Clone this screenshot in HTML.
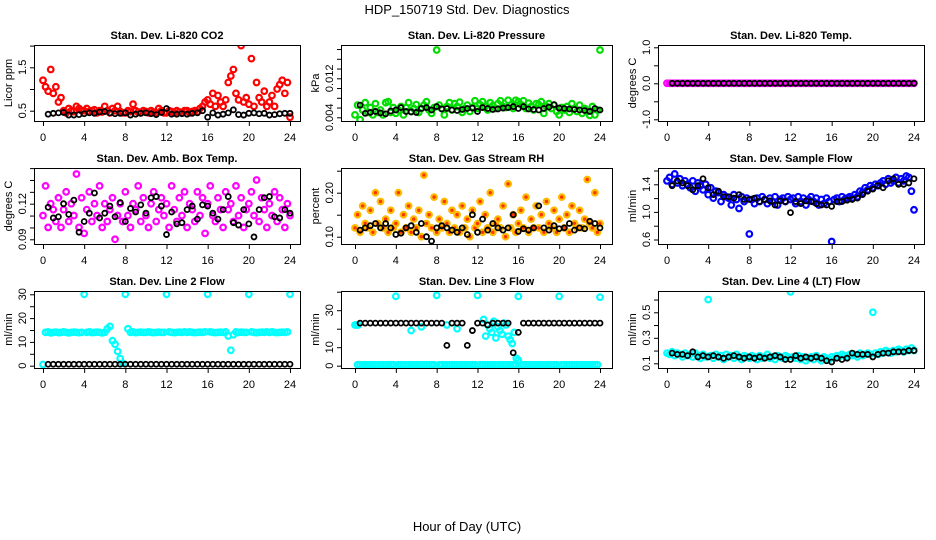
<!DOCTYPE html>
<html><head><meta charset="utf-8"><style>
html,body{margin:0;padding:0;background:#fff;}
svg{display:block;font-family:"Liberation Sans",Arial,sans-serif;}
</style></head><body>
<svg id="chart" width="936" height="540" viewBox="0 0 936 540" xmlns="http://www.w3.org/2000/svg">
<text x="467" y="14" text-anchor="middle" font-size="13">HDP_150719  Std. Dev. Diagnostics</text>
<text x="467" y="531" text-anchor="middle" font-size="13">Hour of Day (UTC)</text>
</svg>
<script>
// ---- data ----
const co2Color = [1.2,1.05,0.95,1.45,0.9,1.05,0.7,0.8, 0.5,0.45,0.55,0.5,0.48,0.6,0.55,0.5, 0.5,0.55,0.48,0.5,0.52,0.45,0.5,0.47, 0.6,0.5,0.45,0.55,0.5,0.6,0.48,0.45, 0.45,0.5,0.48,0.65,0.5,0.47,0.45,0.5, 0.48,0.45,0.5,0.47,0.45,0.55,0.5,0.45, 0.45,0.5,0.48,0.45,0.5,0.47,0.45,0.5, 0.5,0.45,0.48,0.5,0.47,0.55,0.6,0.7, 0.75,0.65,0.9,0.6,0.85,0.7,0.6,0.75, 1.15,1.3,1.45,0.9,0.75,2.0,0.7,0.8, 0.65,1.7,0.6,1.15,0.8,0.7,0.95,0.6, 0.7,0.85,0.6,1.0,1.1,1.2,0.9,1.15,0.35];
const co2Black = [0.42,0.44,0.45,0.46,0.4,0.4,0.41,0.43,0.45,0.44,0.47,0.48,0.45,0.43,0.44,0.45,0.4,0.42,0.44,0.45,0.43,0.41,0.46,0.55,0.42,0.42,0.43,0.42,0.44,0.45,0.5,0.35,0.45,0.4,0.42,0.45,0.52,0.41,0.4,0.44,0.45,0.43,0.44,0.4,0.41,0.43,0.44,0.44];
const presColor = [.0045,.0065,.0035,.0055,.007,.005,.006,.0045, .0068,.005,.0055,.0045,.007,.0072,.005,.006, .0048,.0055,.0062,.0045,.006,.007,.0052,.0058, .0066,.005,.0058,.0065,.0072,.0055,.0048,.006, .0178,.0065,.0058,.0045,.0062,.007,.0055,.0068, .0062,.0071,.005,.0058,.0065,.0052,.006,.0074, .0058,.0066,.0072,.0062,.0055,.007,.0064,.0058, .0068,.0074,.0062,.006,.0075,.0065,.0058,.0075, .0072,.0066,.0074,.0058,.0069,.0062,.0055,.0068, .0066,.0072,.0048,.0062,.0068,.0058,.0065,.0052, .0045,.006,.0055,.0062,.005,.0068,.0058,.0052, .0065,.0048,.0058,.0052,.0044,.0062,.0045,.0055,.0178];
const presBlack = [.0065,.0048,.005,.0052,.0049,.0047,.0053,.0055,.006,.0052,.0051,.005,.0058,.006,.0055,.0062,.0057,.0058,.0055,.0054,.0056,.0058,.0059,.0052,.006,.0058,.0056,.0057,.0059,.006,.0062,.0058,.0062,.0057,.0056,.0055,.0058,.0061,.0066,.0059,.0058,.0057,.0056,.0055,.0054,.0052,.0058,.0055];
const tempColor = new Array(97).fill(0);
const tempBlack = new Array(48).fill(0);
const boxColor = [.11,.135,.10,.12,.115,.105,.125,.10, .115,.13,.105,.12,.11,.145,.10,.125, .095,.115,.13,.105,.12,.11,.135,.10, .12,.105,.115,.125,.09,.11,.12,.105, .13,.11,.10,.12,.115,.135,.105,.125, .11,.10,.12,.13,.105,.115,.125,.11, .12,.1,.135,.115,.105,.125,.11,.13, .1,.12,.115,.105,.13,.11,.125,.095, .12,.135,.11,.105,.125,.115,.1,.13, .115,.12,.105,.135,.11,.125,.1,.115, .12,.13,.11,.14,.105,.125,.115,.1, .12,.11,.13,.105,.125,.115,.1,.12,.11];
const boxBlack = [.117,.108,.109,.12,.111,.123,.096,.105,.112,.129,.108,.112,.118,.109,.121,.105,.116,.113,.119,.112,.125,.126,.118,.094,.113,.103,.104,.115,.118,.107,.119,.118,.112,.107,.115,.126,.104,.102,.115,.103,.092,.115,.125,.126,.109,.108,.115,.112];
const rhColor = [.12,.15,.11,.17,.13,.12,.16,.11, .2,.13,.18,.12,.14,.11,.16,.12, .13,.2,.11,.15,.12,.17,.11,.14, .12,.16,.1,.24,.13,.15,.12,.19, .11,.14,.12,.18,.13,.11,.16,.12, .15,.11,.17,.12,.14,.1,.16,.12, .13,.18,.11,.15,.12,.2,.11,.13, .14,.12,.17,.1,.22,.12,.15,.11, .13,.16,.12,.19,.11,.14,.12,.17, .12,.15,.11,.18,.13,.12,.16,.11, .14,.19,.12,.15,.11,.17,.13,.12, .16,.12,.14,.23,.13,.12,.2,.11,.13];
const rhBlack = [.115,.12,.125,.13,.12,.13,.12,.105,.108,.12,.125,.11,.13,.1,.09,.12,.125,.12,.115,.11,.12,.105,.15,.11,.14,.115,.13,.12,.115,.12,.15,.112,.118,.115,.12,.17,.12,.115,.125,.118,.12,.13,.115,.12,.118,.135,.13,.12];
const flowColor = [1.45,1.5,1.4,1.55,1.42,1.48,1.38,1.45, 1.4,1.35,1.45,1.3,1.42,1.38,1.32,1.4, 1.25,1.35,1.2,1.3,1.28,1.15,1.25,1.22, 1.2,1.1,1.25,1.18,1.05,1.22,1.15,1.2, 0.68,1.18,1.12,1.2,1.15,1.22,1.18,1.12, 1.2,1.15,1.22,1.1,1.18,1.2,1.15,1.22, 1.18,1.2,1.12,1.22,1.15,1.2,1.1,1.18, 1.22,1.15,1.2,1.1,1.18,1.12,1.2,1.15, 0.57,1.18,1.2,1.15,1.22,1.18,1.2,1.22, 1.2,1.25,1.22,1.3,1.28,1.35,1.32,1.38, 1.35,1.4,1.38,1.42,1.45,1.4,1.48,1.42, 1.45,1.5,1.42,1.48,1.45,1.52,1.5,1.3,1.03];
const flowBlack = [1.38,1.45,1.42,1.38,1.32,1.38,1.48,1.35,1.25,1.3,1.22,1.22,1.2,1.25,1.18,1.18,1.2,1.15,1.18,1.16,1.1,1.16,1.15,0.99,1.15,1.12,1.16,1.15,1.12,1.1,1.1,1.08,1.15,1.15,1.17,1.18,1.2,1.25,1.3,1.33,1.38,1.35,1.45,1.48,1.4,1.4,1.42,1.48];
const line2Color = [0.5,14,14.2,13.8,14,14.1,13.9,14, 14.2,14,13.8,14,14.1,14,13.9,14, 30,14,14.2,13.9,14,14.1,14,13.8, 14,15.5,16.5,10.5,9,6,3,1, 30,15.5,14,14.2,13.9,14,14.1,14, 14,14.2,14,13.9,14,14.1,14,14, 30,14.2,14,13.9,14,14.1,14,14.2, 14,14.2,14,13.9,14,14.1,14,14.2, 30,14.2,14,13.9,14,14.1,14,14.2, 12.5,6.5,13,14.2,14,14.1,14,14, 30,14.2,14,13.9,14,14.1,14,14.2, 14,14.2,14,13.9,14,14.1,14,14.2,30];
const line2Black = new Array(48).fill(0.6);
const line3Color = [22,0.5,0.5,0.5,0.5,0.5,0.5,0.5, 0.5,0.5,0.5,0.5,0.5,0.5,0.5,0.5, 37.5,0.5,0.5,0.5,0.5,0.5,0.5,0.5, 0.5,0.5,0.5,0.5,0.5,0.5,0.5,0.5, 38,0.5,0.5,0.5,0.5,0.5,0.5,0.5, 0.5,0.5,0.5,0.5,0.5,0.5,0.5,0.5, 38,0.5,0.5,0.5,0.5,0.5,0.5,0.5, 0.5,0.5,0.5,0.5,0.5,0.5,0.5,0.5, 37.5,0.5,0.5,0.5,0.5,0.5,0.5,0.5, 0.5,0.5,0.5,0.5,0.5,0.5,0.5,0.5, 37.5,0.5,0.5,0.5,0.5,0.5,0.5,0.5, 0.5,0.5,0.5,0.5,0.5,0.5,0.5,0.5,37];
const line3ExtraHours = [0.1,0.3,5.5,6.5,9,10,12.6,12.8,13,13.2,13.4,13.6,13.8,14,14.2,14.4,14.6,14.8,15,15.2,15.4,15.6,15.8,16];
const line3Extra = [22,22,19,21,22,20,25,16,22,20,18,24,15,21,19,17,23,22,16,14,12,18,4,3];
const line3Black = [23,23,23,23,23,23,23,23,23,23,23,23,23,23,23,23,23,11,23,23,23,11,19,23,23,22,23,23,23,23,7,18,23,23,23,23,23,23,23,23,23,23,23,23,23,23,23,23];
const line4Color = [0.18,0.17,0.19,0.16,0.18,0.17,0.15,0.18, 0.16,0.17,0.15,0.18,0.16,0.14,0.17,0.15, 0.6,0.16,0.14,0.17,0.15,0.16,0.13,0.17, 0.15,0.16,0.14,0.17,0.15,0.13,0.16,0.15, 0.14,0.16,0.15,0.13,0.16,0.14,0.15,0.17, 0.14,0.15,0.13,0.16,0.15,0.14,0.16,0.15, 0.66,0.15,0.14,0.16,0.13,0.15,0.12,0.14, 0.15,0.13,0.16,0.14,0.12,0.15,0.14,0.13, 0.15,0.14,0.16,0.15,0.17,0.16,0.15,0.17, 0.16,0.17,0.15,0.18,0.16,0.17,0.18,0.17, 0.5,0.18,0.17,0.19,0.18,0.2,0.19,0.18, 0.2,0.19,0.21,0.2,0.19,0.21,0.2,0.22,0.2];
const line4Black = [.18,.17,.17,.16,.19,.15,.16,.15,.16,.15,.14,.15,.16,.15,.14,.15,.14,.15,.14,.15,.16,.15,.13,.13,.16,.14,.15,.14,.15,.14,.12,.11,.14,.13,.14,.18,.17,.17,.17,.15,.17,.18,.18,.19,.19,.19,.2,.2];
const xTicks = [0,4,8,12,16,20,24];

const NS = "http://www.w3.org/2000/svg";
const svg = document.getElementById('chart');
function mk(tag, attrs, parent){const e=document.createElementNS(NS,tag);for(const k in attrs)e.setAttribute(k,attrs[k]);(parent||svg).appendChild(e);return e;}

const cols=[{l:34,r:300,x0:43,x24:290},{l:341,r:612,x0:355,x24:600},{l:658,r:924,x0:667,x24:914}];
const rows=[{t:45,b:121},{t:168,b:244},{t:291,b:368}];

const panels=[
 {name:'co2',title:'Stan. Dev. Li-820 CO2',ylab:'Licor ppm',c:0,r:0,ya:0.5,pa:110.7,yb:1.5,pb:67.3,ticks:[0.5,1,1.5,2],labels:[[0.5,'0.5'],[1.5,'1.5']],color:'#ff0000',col:co2Color,blk:co2Black},
 {name:'pressure',title:'Stan. Dev. Li-820 Pressure',ylab:'kPa',c:1,r:0,ya:0.004,pa:117.3,yb:0.012,pb:78.3,ticks:[0.004,0.006,0.008,0.010,0.012,0.014,0.016,0.018],labels:[[0.004,'0.004'],[0.012,'0.012']],color:'#00dd00',col:presColor,blk:presBlack},
 {name:'li820-temp',title:'Stan. Dev. Li-820 Temp.',ylab:'degrees C',c:2,r:0,ya:-1,pa:119.3,yb:1,pb:47.3,ticks:[-1,-0.5,0,0.5,1],labels:[[-1,'-1.0'],[0,'0.0'],[1,'1.0']],color:'#ff00ff',col:tempColor,blk:tempBlack},
 {name:'box-temp',title:'Stan. Dev. Amb. Box Temp.',ylab:'degrees C',c:0,r:1,ya:0.09,pa:239.3,yb:0.12,pb:203.7,ticks:[0.09,0.10,0.11,0.12,0.13,0.14,0.15],labels:[[0.09,'0.09'],[0.12,'0.12']],color:'#ff00ff',col:boxColor,blk:boxBlack},
 {name:'gas-rh',title:'Stan. Dev. Gas Stream RH',ylab:'percent',c:1,r:1,ya:0.10,pa:236.7,yb:0.20,pb:192.7,ticks:[0.10,0.15,0.20,0.25],labels:[[0.10,'0.10'],[0.20,'0.20']],color:'#ffbb00',fill:'#ff3300',col:rhColor,blk:rhBlack},
 {name:'sample-flow',title:'Stan. Dev. Sample Flow',ylab:'ml/min',c:2,r:1,ya:0.6,pa:239.5,yb:1.4,pb:184.3,ticks:[0.6,0.8,1.0,1.2,1.4,1.6],labels:[[0.6,'0.6'],[1.0,'1.0'],[1.4,'1.4']],color:'#0000ff',col:flowColor,blk:flowBlack},
 {name:'line2-flow',title:'Stan. Dev. Line 2 Flow',ylab:'ml/min',c:0,r:2,ya:0,pa:365.7,yb:30,pb:294.3,ticks:[0,5,10,15,20,25,30],labels:[[0,'0'],[10,'10'],[20,'20'],[30,'30']],color:'#00ffff',col:line2Color,blk:line2Black},
 {name:'line3-flow',title:'Stan. Dev. Line 3 Flow',ylab:'ml/min',c:1,r:2,ya:0,pa:365.7,yb:30,pb:310.2,ticks:[0,10,20,30,40],labels:[[0,'0'],[10,'10'],[30,'30']],color:'#00ffff',col:line3Color,blk:line3Black,extraH:line3ExtraHours,extraV:line3Extra},
 {name:'line4-flow',title:'Stan. Dev. Line 4 (LT) Flow',ylab:'ml/min',c:2,r:2,ya:0.1,pa:363.3,yb:0.5,pb:312.3,ticks:[0.1,0.2,0.3,0.4,0.5,0.6],labels:[[0.1,'0.1'],[0.3,'0.3'],[0.5,'0.5']],color:'#00ffff',col:line4Color,blk:line4Black}
];

panels.forEach(p=>{
 const C=cols[p.c],R=rows[p.r];
 const g=mk('g',{});
 
 
 const xs=h=>C.x0+(C.x24-C.x0)*h/24;
 const ys=v=>p.pa+(p.pb-p.pa)*(v-p.ya)/(p.yb-p.ya);
 const clip=mk('clipPath',{id:'clip-'+p.name},g);
 mk('rect',{x:C.l,y:R.t,width:C.r-C.l,height:R.b-R.t},clip);
 const t=mk('text',{x:(C.l+C.r)/2,y:R.t-6,'text-anchor':'middle','font-size':'11','font-weight':'bold'},g);
 t.textContent=p.title;
 
 
 const pts=mk('g',{'clip-path':'url(#clip-'+p.name+')'},g);
 
 
 const fill=p.fill||'none';
 if(p.name==='li820-temp'){
  const ln=mk('line',{x1:xs(0),x2:xs(24),y1:ys(0),y2:ys(0),stroke:'#ff00ff','stroke-width':4},pts);
  
  
 }
 p.col.forEach((v,i)=>{
  const c=mk('circle',{cx:xs(i*0.25),cy:ys(v),r:2.8,fill:fill,stroke:p.color,'stroke-width':2.2},pts);
  
  
 });
 if(p.extraH){p.extraH.forEach((h,i)=>{
  const c=mk('circle',{cx:xs(h),cy:ys(p.extraV[i]),r:2.8,fill:'none',stroke:p.color,'stroke-width':2.2},pts);
  
  
 });}
 p.blk.forEach((v,i)=>{
  const c=mk('circle',{cx:xs(i*0.5+0.5),cy:ys(v),r:2.5,fill:'none',stroke:'#000','stroke-width':1.8},pts);
  
  
 });
 const b=mk('rect',{x:C.l+0.5,y:R.t+0.5,width:C.r-C.l,height:R.b-R.t,fill:'none',stroke:'#000','stroke-width':1},g);
 
 
 const xa=mk('g',{},g);
 
 
 mk('line',{x1:xs(0),x2:xs(24),y1:R.b+0.5,y2:R.b+0.5,stroke:'#000'},xa);
 xTicks.forEach(h=>{
  mk('line',{x1:xs(h)+0.5,x2:xs(h)+0.5,y1:R.b,y2:R.b+5,stroke:'#000'},xa);
  const tl=mk('text',{x:xs(h),y:R.b+20,'text-anchor':'middle','font-size':'11'},xa);
  tl.textContent=h;
  
  
 });
 const ya=mk('g',{},g);
 
 
 mk('line',{x1:C.l+0.5,x2:C.l+0.5,y1:ys(p.ticks[0]),y2:ys(p.ticks[p.ticks.length-1]),stroke:'#000'},ya);
 p.ticks.forEach(v=>{mk('line',{x1:C.l-4,x2:C.l,y1:ys(v)+0.5,y2:ys(v)+0.5,stroke:'#000'},ya);});
 p.labels.forEach(([v,s])=>{
  const yy=ys(v),xx=C.l-8;
  const tl=mk('text',{x:xx,y:yy,'text-anchor':'middle','font-size':'11',transform:'rotate(-90 '+xx+' '+yy+')'},ya);
  tl.textContent=s;
  
  
 });
 const cy=(R.t+R.b)/2,cx=C.l-22;
 const yl=mk('text',{x:cx,y:cy,'text-anchor':'middle','font-size':'11',transform:'rotate(-90 '+cx+' '+cy+')'},g);
 yl.textContent=p.ylab;
 
 
});
</script>
</body></html>
